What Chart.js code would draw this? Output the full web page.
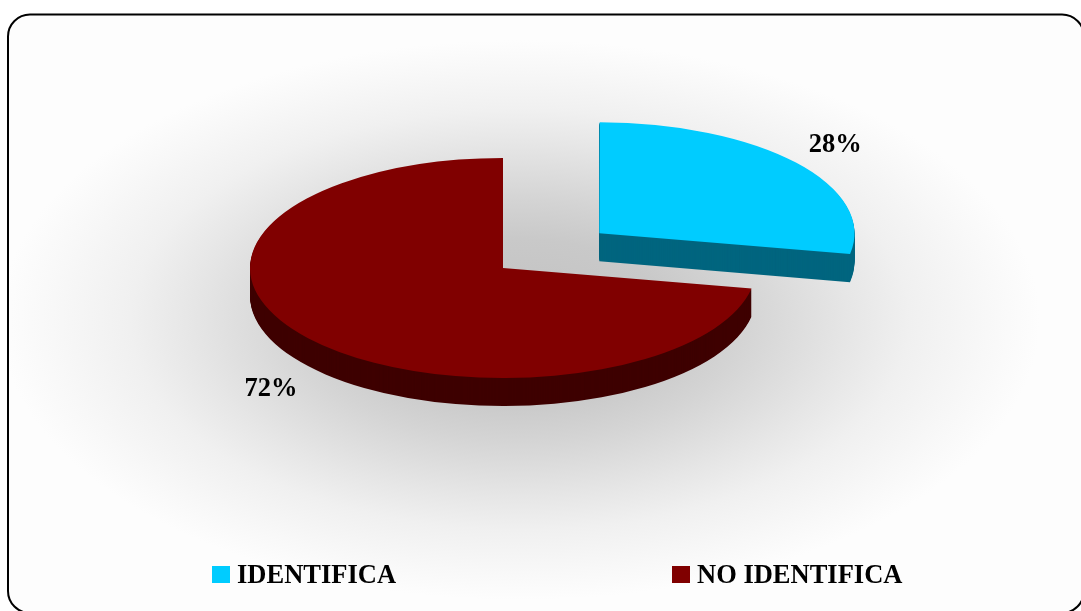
<!DOCTYPE html>
<html>
<head>
<meta charset="utf-8">
<script src="https://cdn.jsdelivr.net/npm/chart.js@4.4.1/dist/chart.umd.min.js"></script>
<style>
  html, body { margin: 0; padding: 0; background: #ffffff; }
  #wrap { width: 1081px; height: 611px; }
</style>
</head>
<body>
<div id="wrap"><canvas id="pie" width="1081" height="611"></canvas></div>
<script>
// ---- data ----
const categories = ['IDENTIFICA', 'NO IDENTIFICA'];
const shares = [28, 72];
const shareLabels = ['28%', '72%'];

// ---- look ----
const topColors = ['#00CCFF', '#800000'];
const sideColors = ['#00657F', '#3E0000'];
const sliceOffset = [500, 0];          // exploded slice (Chart.js divides by 4)
const TILT = 0.435;                    // vertical squash of the disc
const DEPTH = 28;                      // thickness of the disc in px
const FONT = 'bold 26.5px "Liberation Serif", "Times New Roman", serif';
const legendX = [212, 672];
const legendY = 575;

// outline of a slice, same geometry the arc element uses
function slicePath(ctx, arc, off) {
  const p = arc.getProps(['x', 'y', 'startAngle', 'endAngle', 'outerRadius', 'circumference'], true);
  const mid = (p.startAngle + p.endAngle) / 2;
  const shift = off / 4;
  const fix = 1 - Math.sin(Math.min(Math.PI, p.circumference || 0));
  const r = p.outerRadius + shift * fix;
  const cx = p.x + Math.cos(mid) * shift;
  const cy = p.y + Math.sin(mid) * shift;
  ctx.beginPath();
  ctx.moveTo(cx, cy);
  ctx.arc(cx, cy, r, p.startAngle, p.endAngle);
  ctx.closePath();
}

const frame = {
  id: 'frame',
  beforeDraw(chart) {
    const ctx = chart.ctx;
    ctx.save();
    ctx.beginPath();
    ctx.roundRect(8, 14.5, 1076, 598.5, 22);
    ctx.save();
    ctx.clip();
    ctx.translate(520, 320);
    ctx.scale(1, 280 / 520);
    const g = ctx.createRadialGradient(0, 0, 0, 0, 0, 520);
    g.addColorStop(0, '#c3c3c3');
    g.addColorStop(0.18, '#c6c6c6');
    g.addColorStop(0.29, '#c9c9c9');
    g.addColorStop(0.43, '#d4d4d4');
    g.addColorStop(0.63, '#e6e6e6');
    g.addColorStop(0.75, '#f0f0f0');
    g.addColorStop(0.9, '#f8f8f8');
    g.addColorStop(1, '#fdfdfd');
    ctx.fillStyle = g;
    ctx.fillRect(-700, -1200, 1400, 2400);
    ctx.restore();
    ctx.lineWidth = 2;
    ctx.strokeStyle = '#000000';
    ctx.stroke();
    ctx.restore();
  }
};

const tilt3d = {
  id: 'tilt3d',
  beforeDatasetsDraw(chart) {
    const ctx = chart.ctx;
    const arcs = chart.getDatasetMeta(0).data;
    const cy = arcs[0].y;
    // extruded sides, from the bottom layer upwards
    for (let d = DEPTH; d >= 1; d--) {
      ctx.save();
      ctx.translate(0, cy + d);
      ctx.scale(1, TILT);
      ctx.translate(0, -cy);
      arcs.forEach((arc, i) => {
        slicePath(ctx, arc, sliceOffset[i]);
        ctx.fillStyle = sideColors[i];
        ctx.fill();
      });
      ctx.restore();
    }
    // top faces
    ctx.save();
    ctx.translate(0, cy);
    ctx.scale(1, TILT);
    ctx.translate(0, -cy);
    arcs.forEach(arc => arc.draw(ctx));
    ctx.restore();
    return false;
  },
  afterDraw(chart) {
    const ctx = chart.ctx;
    const arcs = chart.getDatasetMeta(0).data;
    ctx.save();
    ctx.font = FONT;
    ctx.fillStyle = '#000000';
    ctx.textAlign = 'center';
    ctx.textBaseline = 'middle';
    arcs.forEach((arc, i) => {
      const p = arc.getProps(['x', 'y', 'startAngle', 'endAngle', 'outerRadius'], true);
      const mid = (p.startAngle + p.endAngle) / 2;
      const shift = sliceOffset[i] / 4;
      const r = p.outerRadius * 1.2 + shift;
      const lx = p.x + Math.cos(mid) * r;
      let ly = p.y + Math.sin(mid) * r * TILT;
      if (Math.sin(mid) > 0) ly += DEPTH + 8;
      else ly -= 5;
      ctx.fillText(shareLabels[i], lx + 2, ly + 1);
    });
    // legend
    ctx.textAlign = 'left';
    categories.forEach((name, i) => {
      ctx.fillStyle = topColors[i];
      ctx.fillRect(legendX[i], legendY - 9, 18, 17);
      ctx.fillStyle = '#000000';
      ctx.fillText(name, legendX[i] + 25, legendY + 1);
    });
    ctx.restore();
  }
};

new Chart(document.getElementById('pie'), {
  type: 'pie',
  data: {
    labels: categories,
    datasets: [{
      data: shares,
      backgroundColor: topColors,
      borderWidth: 0,
      offset: sliceOffset,
      radius: 253
    }]
  },
  options: {
    responsive: false,
    devicePixelRatio: 1,
    animation: false,
    events: [],
    layout: { padding: { left: 0, right: 75, top: 0, bottom: 75 } },
    plugins: {
      legend: { display: false },
      tooltip: { enabled: false }
    }
  },
  plugins: [frame, tilt3d]
});
</script>
</body>
</html>
